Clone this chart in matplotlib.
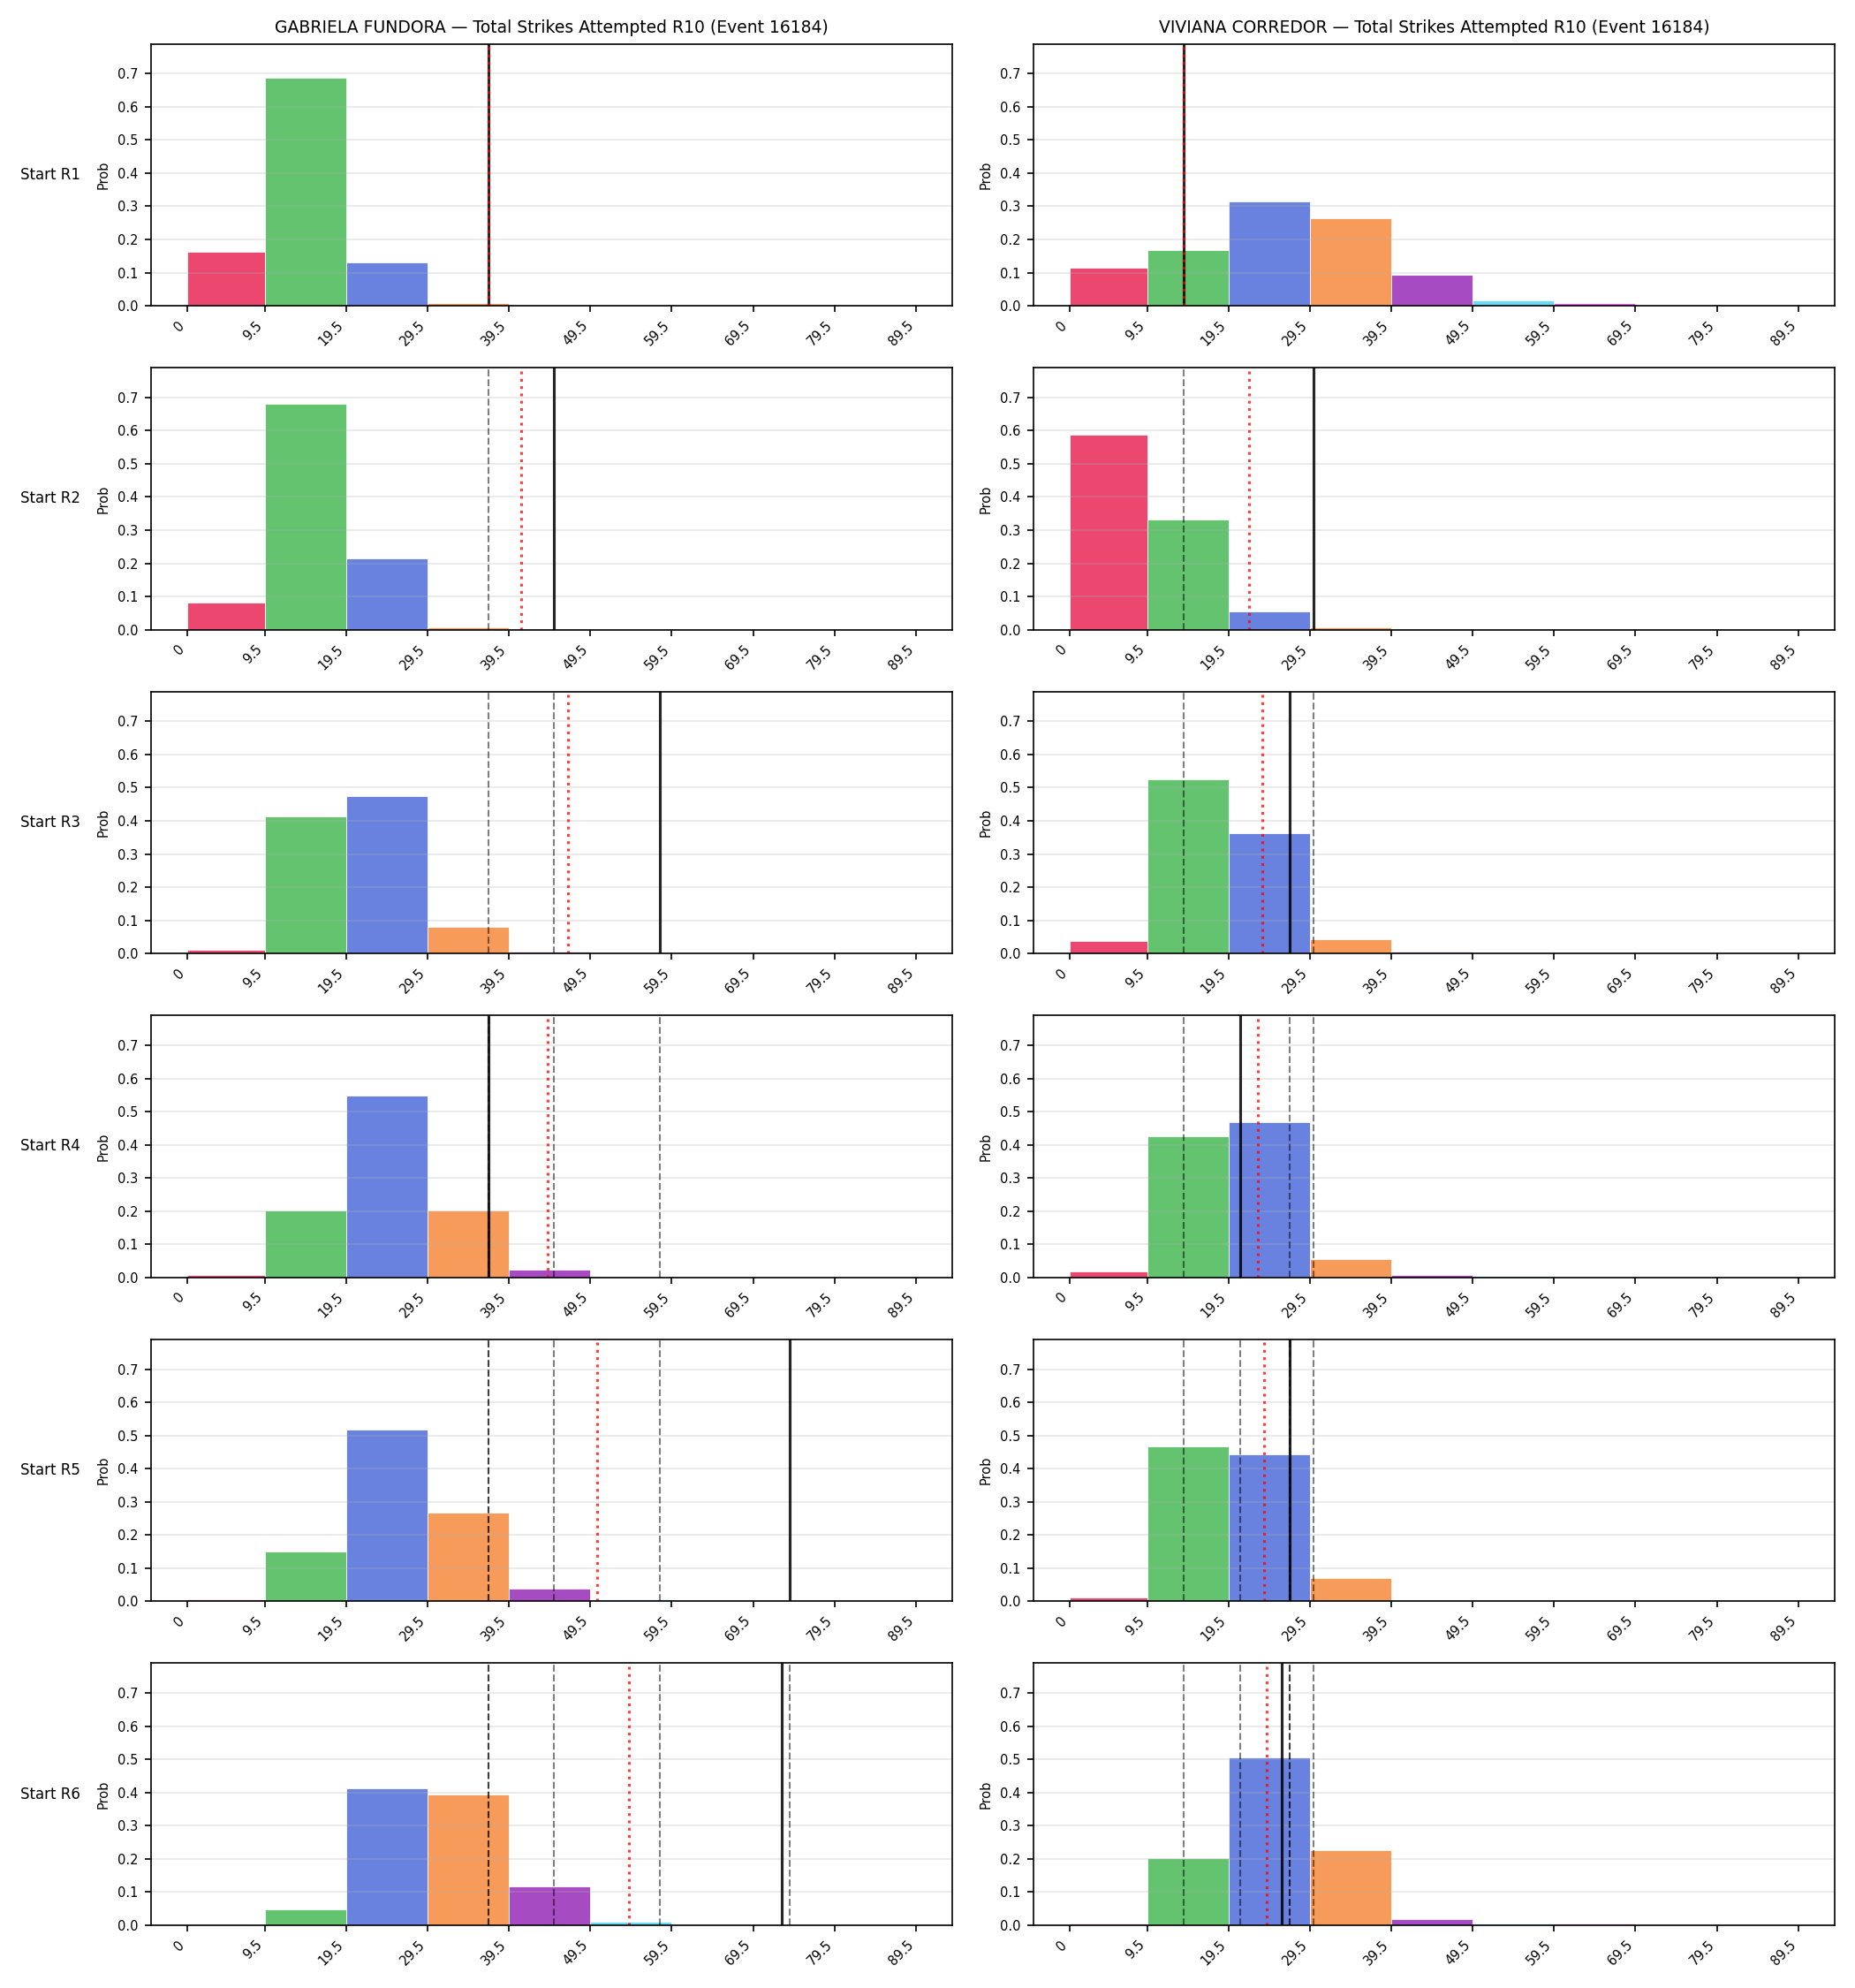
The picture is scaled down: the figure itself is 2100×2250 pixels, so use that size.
import matplotlib
matplotlib.use("Agg")
import matplotlib.pyplot as plt
import numpy as np

# ---------------- data ----------------
fighters = ["GABRIELA FUNDORA", "VIVIANA CORREDOR"]
title_suffix = "Total Strikes Attempted R10 (Event 16184)"
rounds = ["Start R1", "Start R2", "Start R3", "Start R4", "Start R5", "Start R6"]

bin_edges = [0, 9.5, 19.5, 29.5, 39.5, 49.5, 59.5, 69.5, 79.5, 89.5]
tick_labels = ["0", "9.5", "19.5", "29.5", "39.5", "49.5", "59.5", "69.5", "79.5", "89.5"]

probs_fundora = [
    [0.163, 0.687, 0.131, 0.007, 0.0005, 0.0, 0.0, 0.0, 0.0],
    [0.081, 0.680, 0.215, 0.008, 0.0005, 0.0, 0.0, 0.0, 0.0],
    [0.011, 0.414, 0.474, 0.081, 0.005, 0.0, 0.0, 0.0, 0.0],
    [0.008, 0.201, 0.549, 0.201, 0.023, 0.001, 0.0, 0.0, 0.0],
    [0.007, 0.151, 0.517, 0.266, 0.039, 0.006, 0.0, 0.0, 0.0],
    [0.001, 0.048, 0.413, 0.394, 0.116, 0.010, 0.0, 0.0, 0.0],
]
probs_corredor = [
    [0.115, 0.168, 0.314, 0.265, 0.094, 0.015, 0.007, 0.001, 0.0],
    [0.588, 0.331, 0.054, 0.007, 0.0005, 0.0, 0.0, 0.0, 0.0],
    [0.039, 0.526, 0.364, 0.043, 0.005, 0.0, 0.0, 0.0, 0.0],
    [0.018, 0.426, 0.469, 0.056, 0.007, 0.006, 0.0, 0.0, 0.0],
    [0.012, 0.468, 0.442, 0.069, 0.002, 0.0, 0.0, 0.0, 0.0],
    [0.004, 0.203, 0.507, 0.225, 0.019, 0.004, 0.004, 0.0, 0.0],
]

# actual value line per round (black solid); earlier rounds shown dashed
actual_fundora = [37, 45, 58, 37, 74, 73]
actual_corredor = [14, 30, 27, 21, 27, 26]
# expected value per round (red dotted)
mean_fundora = [37, 41.0, 46.8, 44.3, 50.3, 54.2]
mean_corredor = [14, 22.0, 23.7, 23.15, 23.85, 24.24]

bar_colors = ["#e6194B", "#3cb44b", "#4363d8", "#f58231", "#911eb4",
              "#42d4f4", "#f032e6", "#469990", "#9A6324"]

probs_all = [probs_fundora, probs_corredor]
actual_all = [actual_fundora, actual_corredor]
mean_all = [mean_fundora, mean_corredor]

# ---------------- figure ----------------
fig, axes = plt.subplots(6, 2, figsize=(14, 15), dpi=150)
fig.subplots_adjust(left=0.0814, right=0.989, bottom=0.0316, top=0.978,
                    wspace=0.101, hspace=0.236)

edges = np.array(bin_edges, dtype=float)
lefts = edges[:-1]
widths = np.diff(edges)

for c in range(2):
    for r in range(6):
        ax = axes[r, c]
        ax.bar(lefts, probs_all[c][r], width=widths, align="edge",
               color=bar_colors[:len(lefts)], alpha=0.8,
               edgecolor="white", linewidth=0.5)
        # previous rounds' actuals
        for k in range(r):
            ax.axvline(actual_all[c][k], color="black", linestyle="--",
                       linewidth=1.0, alpha=0.5)
        ax.axvline(actual_all[c][r], color="black", linewidth=1.5, alpha=0.85)
        ax.axvline(mean_all[c][r], color="red", linestyle=":",
                   linewidth=1.5, alpha=0.75)
        ax.set_xticks(edges)
        ax.set_xticklabels(tick_labels, rotation=45, ha="right", fontsize=7)
        ax.set_ylim(0, 0.79)
        ax.set_yticks(np.arange(0, 0.71, 0.1))
        ax.set_yticklabels([f"{v:.1f}" for v in np.arange(0, 0.71, 0.1)], fontsize=7)
        ax.set_ylabel("Prob", fontsize=7)
        ax.grid(axis="y", alpha=0.3)
        if r == 0:
            ax.set_title(f"{fighters[c]} \u2014 {title_suffix}", fontsize=9)
        if c == 0:
            pos = ax.get_position()
            fig.text(0.011, (pos.y0 + pos.y1) / 2, rounds[r], ha="left",
                     va="center", fontsize=8)

fig.savefig("out.png", dpi=150)
